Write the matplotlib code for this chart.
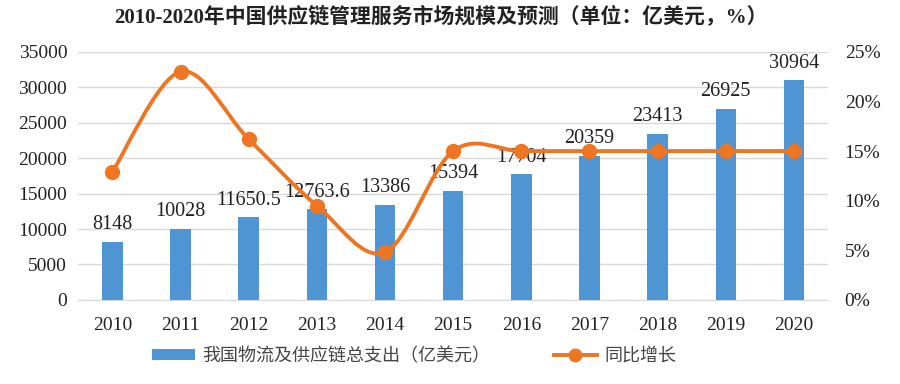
import numpy as np
import matplotlib
matplotlib.use("Agg")
import matplotlib.pyplot as plt
from matplotlib.path import Path
from matplotlib.patches import PathPatch
from matplotlib.lines import Line2D
from matplotlib.patches import Patch

years = ['2010', '2011', '2012', '2013', '2014', '2015', '2016', '2017', '2018', '2019', '2020']
spend = [8148, 10028, 11650.5, 12763.6, 13386, 15394, 17704, 20359, 23413, 26925, 30964]
spend_labels = ['8148', '10028', '11650.5', '12763.6', '13386', '15394', '17704', '20359', '23413', '26925', '30964']
growth = [12.9, 23.0, 16.2, 9.5, 4.8, 15.0, 15.0, 15.0, 15.0, 15.0, 15.0]

blue = '#4F94D3'
orange = '#EE7623'
serif = ['Liberation Serif', 'Noto Sans CJK SC']

fig = plt.figure(figsize=(9, 3.84), dpi=100)
ax = fig.add_axes([0.087, 0.219, 0.833, 0.646])
ax2 = ax.twinx()

x = np.arange(len(years))
ax.bar(x, spend, width=0.3, color=blue, zorder=2)
for xi, v, s in zip(x, spend, spend_labels):
    ax.text(xi, v + 1100, s, ha='center', va='bottom', fontsize=14.5,
            family=serif, color='#222222', zorder=5)

ax.set_ylim(0, 35000)
ax.set_yticks(range(0, 35001, 5000))
ax.set_xlim(-0.5, len(years) - 0.5)
ax.set_xticks(x)
ax.set_xticklabels(years)
ax.grid(axis='y', color='#D9D9D9', linewidth=1, zorder=0)
ax.set_axisbelow(True)
for sp in ['top', 'left', 'right']:
    ax.spines[sp].set_visible(False)
    ax2.spines[sp].set_visible(False)
ax.spines['bottom'].set_color('#D9D9D9')
ax2.spines['bottom'].set_visible(False)
ax.tick_params(axis='x', length=0, labelsize=14, pad=12)
ax.tick_params(axis='y', length=0, labelsize=14, pad=8)
for lab in ax.get_xticklabels() + ax.get_yticklabels():
    lab.set_family(serif)
    lab.set_color('#222222')

# smoothed line (Catmull-Rom as cubic bezier)
ax2.set_ylim(0, 25)
ax2.set_yticks(range(0, 26, 5))
ax2.set_yticklabels([f'{t}%' for t in range(0, 26, 5)])
ax2.tick_params(length=0, labelsize=14, pad=12)
for lab in ax2.get_yticklabels():
    lab.set_family(serif)
    lab.set_color('#222222')

pts = np.column_stack([x, growth]).astype(float)
verts = [pts[0]]
codes = [Path.MOVETO]
t = 1 / 6
for i in range(len(pts) - 1):
    p0 = pts[i - 1] if i > 0 else pts[i]
    p1 = pts[i]
    p2 = pts[i + 1]
    p3 = pts[i + 2] if i + 2 < len(pts) else pts[i + 1]
    c1 = p1 + (p2 - p0) * t
    c2 = p2 - (p3 - p1) * t
    verts += [c1, c2, p2]
    codes += [Path.CURVE4] * 3
ax2.add_patch(PathPatch(Path(verts, codes), facecolor='none', edgecolor=orange,
                        linewidth=2.8, zorder=3))
ax2.plot(x, growth, linestyle='none', marker='o', markersize=10, color=orange, zorder=4)

fig.text(0.49, 0.955, '2010-2020年中国供应链管理服务市场规模及预测（单位：亿美元，%）',
         ha='center', va='center', fontsize=15, fontweight='bold', family=serif,
         color='#222222')

handles = [Patch(facecolor=blue, edgecolor='none'),
           Line2D([0], [0], color=orange, linewidth=2.8, marker='o', markersize=9)]
fig.legend(handles, ['我国物流及供应链总支出（亿美元）', '同比增长'],
           loc='center', bbox_to_anchor=(0.46, 0.073), ncol=2, frameon=False,
           prop={'family': ['Noto Sans CJK SC', 'DejaVu Sans'], 'size': 13},
           labelcolor='#444444', handlelength=2.4, handletextpad=0.4,
           columnspacing=3.5, handleheight=0.5)

fig.savefig('out.png', dpi=100)
